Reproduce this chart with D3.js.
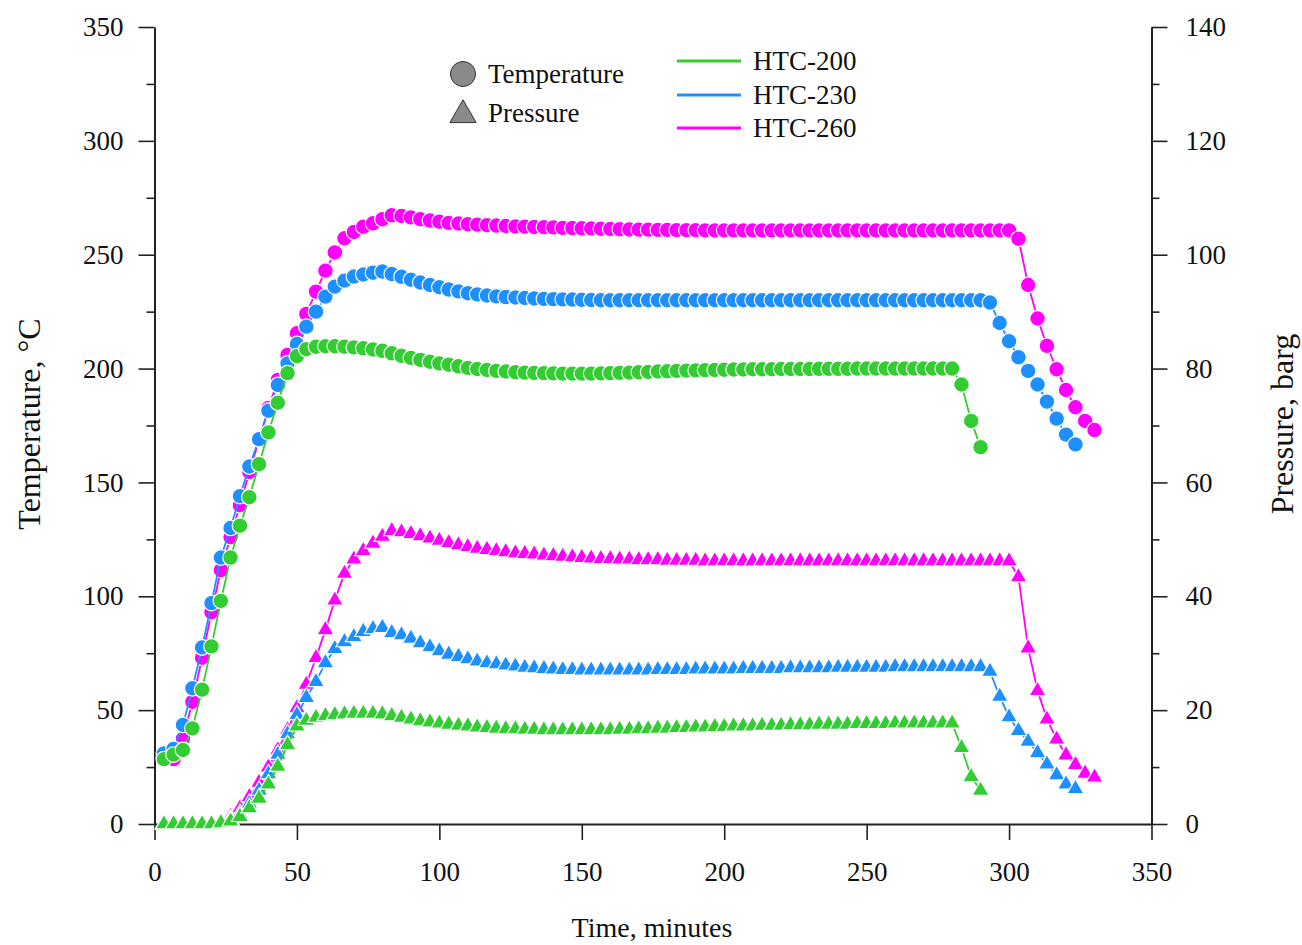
<!DOCTYPE html>
<html>
<head>
<meta charset="utf-8">
<script src="https://cdn.jsdelivr.net/npm/d3@7/dist/d3.min.js"></script>
<style>
  html, body { margin: 0; padding: 0; background: #fff; }
  svg { display: block; }
  text { font-family: "Liberation Serif", "Times New Roman", serif; fill: #111; }
</style>
</head>
<body>
<svg id="chart" width="1302" height="945"></svg>
<script>
// ---------------- DATA ----------------
const seriesNames = ["HTC-200", "HTC-230", "HTC-260"];
const seriesColors = ["#33cc33", "#1e8fff", "#ff00ff"];

const timeMinutes = [3.3, 6.7, 10, 13.3, 16.7, 20, 23.3, 26.7, 30, 33.3,
  36.7, 40, 43.3, 46.7, 50, 53.3, 56.7, 60, 63.3, 66.7,
  70, 73.3, 76.7, 80, 83.3, 86.7, 90, 93.3, 96.7, 100,
  103.3, 106.7, 110, 113.3, 116.7, 120, 123.3, 126.7, 130, 133.3,
  136.7, 140, 143.3, 146.7, 150, 153.3, 156.7, 160, 163.3, 166.7,
  170, 173.3, 176.7, 180, 183.3, 186.7, 190, 193.3, 196.7, 200,
  203.3, 206.7, 210, 213.3, 216.7, 220, 223.3, 226.7, 230, 233.3,
  236.7, 240, 243.3, 246.7, 250, 253.3, 256.7, 260, 263.3, 266.7,
  270, 273.3, 276.7, 280, 283.3, 286.7, 290, 293.3, 296.7, 300,
  303.3, 306.7, 310, 313.3, 316.7, 320, 323.3, 326.7, 330];

const tempHTC200 = [28.5, 30.5, 32.5, 42, 59, 78, 98, 117, 131, 143.5,
  158, 172, 185, 198, 205.5, 208.5, 209.6, 209.8, 209.8, 209.6,
  209.3, 208.9, 208.4, 207.8, 206.7, 205.6, 204.7, 203.8, 203, 202.3,
  201.7, 201, 200.3, 199.8, 199.4, 199, 198.7, 198.4, 198.2, 198.1,
  198, 197.9, 197.8, 197.8, 197.8, 197.8, 197.9, 198, 198.1, 198.2,
  198.4, 198.5, 198.7, 198.8, 199, 199.1, 199.2, 199.3, 199.4, 199.5,
  199.6, 199.6, 199.7, 199.7, 199.7, 199.8, 199.8, 199.8, 199.8, 199.9,
  199.9, 199.9, 199.9, 200, 200, 200, 200, 200, 200, 200,
  200, 200, 200, 200, 193, 177, 165.5];

const tempHTC230 = [31, 33, 43.5, 59.6, 77.5, 97, 117, 130, 144, 157,
  169, 181.5, 192.8, 202.3, 210.8, 218.4, 225, 231.6, 236, 238.6,
  240.4, 241.3, 242.1, 242.6, 241.5, 240.3, 239, 237.8, 236.7, 235.7,
  234.7, 233.9, 233.1, 232.6, 232.1, 231.7, 231.4, 231.2, 231, 230.8,
  230.6, 230.5, 230.4, 230.3, 230.2, 230.1, 230, 230, 230, 230,
  230, 230, 230, 230, 230, 230, 230, 230, 230, 230,
  230, 230, 230, 230, 230, 230, 230, 230, 230, 230,
  230, 230, 230, 230, 230, 230, 230, 230, 230, 230,
  230, 230, 230, 230, 230, 230, 230, 229, 220, 212,
  205, 199, 193, 185.5, 178, 171, 166.7];

const tempHTC260 = [29, 28.5, 37.5, 53.7, 73, 93, 111.5, 126, 140, 154.6,
  168.6, 182.7, 195, 206, 215.5, 224, 233.8, 243, 251, 257.2,
  260, 262.3, 263.8, 265.6, 267.3, 267, 266.4, 265.6, 265, 264.5,
  264, 263.7, 263.4, 263.2, 263, 262.8, 262.6, 262.4, 262.3, 262.2,
  262.1, 262, 261.8, 261.7, 261.6, 261.5, 261.4, 261.3, 261.2, 261.1,
  261, 261, 260.9, 260.9, 260.8, 260.8, 260.8, 260.7, 260.7, 260.7,
  260.7, 260.7, 260.7, 260.7, 260.7, 260.7, 260.7, 260.7, 260.7, 260.7,
  260.7, 260.7, 260.7, 260.7, 260.7, 260.7, 260.7, 260.7, 260.7, 260.7,
  260.7, 260.7, 260.7, 260.7, 260.7, 260.7, 260.7, 260.7, 260.7, 260.7,
  257, 236.7, 222, 210, 199.7, 190.6, 183, 177, 173];

const pressHTC200 = [0, 0, 0, 0, 0, 0, 0.2, 0.5, 1.3, 2.8,
  4.5, 7, 10.1, 13.9, 17.2, 18.2, 18.7, 19, 19.2, 19.3,
  19.4, 19.4, 19.4, 19.3, 19, 18.7, 18.4, 18.1, 17.9, 17.7,
  17.5, 17.3, 17.2, 17, 16.9, 16.8, 16.7, 16.7, 16.6, 16.6,
  16.5, 16.5, 16.5, 16.5, 16.5, 16.5, 16.5, 16.5, 16.6, 16.6,
  16.7, 16.7, 16.8, 16.8, 16.9, 16.9, 17, 17, 17.1, 17.1,
  17.2, 17.2, 17.2, 17.3, 17.3, 17.3, 17.4, 17.4, 17.4, 17.5,
  17.5, 17.5, 17.5, 17.6, 17.6, 17.6, 17.6, 17.7, 17.7, 17.7,
  17.7, 17.7, 17.7, 17.7, 13.4, 8.3, 5.9];

const pressHTC230 = [0, 0, 0, 0, 0, 0, 0.3, 0.8, 1.8, 3.6,
  5.9, 8.8, 12.2, 15.8, 19.2, 22.2, 25, 28.3, 30.8, 32,
  32.9, 33.8, 34.3, 34.5, 33.6, 33.2, 32.6, 31.8, 31.1, 30.4,
  29.8, 29.4, 29, 28.6, 28.3, 28.1, 27.9, 27.7, 27.5, 27.4,
  27.3, 27.2, 27.1, 27.1, 27, 27, 27, 27, 27, 27,
  27, 27, 27.1, 27.1, 27.1, 27.1, 27.2, 27.2, 27.2, 27.2,
  27.2, 27.3, 27.3, 27.3, 27.3, 27.3, 27.4, 27.4, 27.4, 27.4,
  27.4, 27.5, 27.5, 27.5, 27.5, 27.5, 27.5, 27.6, 27.6, 27.6,
  27.6, 27.6, 27.6, 27.6, 27.6, 27.6, 27.6, 26.8, 22.4, 18.8,
  16.4, 14.5, 12.5, 10.5, 8.6, 7, 6.2];

const pressHTC260 = [0, 0, 0, 0, 0, 0, 0.4, 1.3, 2.8, 4.8,
  7.3, 10, 13, 16.5, 20.4, 24.5, 29.2, 34.1, 39.3, 44,
  46.5, 48, 49.3, 50.5, 51.5, 51.3, 51, 50.6, 50.2, 49.8,
  49.4, 49, 48.7, 48.4, 48.2, 48, 47.8, 47.6, 47.5, 47.4,
  47.2, 47.1, 47, 46.9, 46.8, 46.7, 46.6, 46.6, 46.5, 46.5,
  46.4, 46.4, 46.4, 46.3, 46.3, 46.3, 46.3, 46.2, 46.2, 46.2,
  46.2, 46.2, 46.2, 46.2, 46.2, 46.2, 46.2, 46.2, 46.2, 46.2,
  46.2, 46.2, 46.2, 46.2, 46.2, 46.2, 46.2, 46.2, 46.2, 46.2,
  46.2, 46.2, 46.2, 46.2, 46.2, 46.2, 46.2, 46.2, 46.2, 46.2,
  43.4, 30.9, 23.4, 18.4, 14.9, 12.1, 10.4, 8.9, 8.2];

const xTicks = [0, 50, 100, 150, 200, 250, 300, 350];
const tempTicks = [0, 50, 100, 150, 200, 250, 300, 350];
const tempMinorTicks = [25, 75, 125, 175, 225, 275, 325];
const pressTicks = [0, 20, 40, 60, 80, 100, 120, 140];
const pressMinorTicks = [10, 30, 50, 70, 90, 110, 130];

// ---------------- CHART ----------------
const svg = d3.select("#chart");
const L = 154.5, R = 1151.5, T = 27, B = 824;
const x = d3.scaleLinear().domain([0, 350]).range([L, R]);
const yT = d3.scaleLinear().domain([0, 350]).range([B, T]);
const yP = d3.scaleLinear().domain([0, 140]).range([B, T]);

const FS = 27;
const axisColor = "#222";

function styleAxis(g) {
  g.selectAll("path.domain").attr("stroke", axisColor).attr("stroke-width", 2);
  g.selectAll(".tick line").attr("stroke", axisColor).attr("stroke-width", 1.6);
  g.selectAll(".tick text").style("font-family", '"Liberation Serif", serif').style("font-size", FS + "px").attr("fill", "#111");
}

// minor ticks
svg.append("g").attr("transform", `translate(${L},0)`)
  .call(d3.axisLeft(yT).tickValues(tempMinorTicks).tickSize(8).tickFormat(""))
  .call(g => g.select(".domain").remove())
  .call(styleAxis);
svg.append("g").attr("transform", `translate(${R},0)`)
  .call(d3.axisRight(yP).tickValues(pressMinorTicks).tickSize(8).tickFormat(""))
  .call(g => g.select(".domain").remove())
  .call(styleAxis);

svg.append("g").attr("transform", `translate(${L},0)`)
  .call(d3.axisLeft(yT).tickValues(tempTicks).tickSize(16).tickSizeOuter(0).tickPadding(15).tickFormat(d3.format("d")))
  .call(styleAxis);
svg.append("g").attr("transform", `translate(${R},0)`)
  .call(d3.axisRight(yP).tickValues(pressTicks).tickSize(16).tickSizeOuter(0).tickPadding(18).tickFormat(d3.format("d")))
  .call(styleAxis);
svg.append("g").attr("transform", `translate(0,${B})`)
  .call(d3.axisBottom(x).tickValues(xTicks).tickSize(16).tickSizeOuter(0).tickPadding(22).tickFormat(d3.format("d")))
  .call(styleAxis);

// axis titles
svg.append("text").attr("x", 652).attr("y", 937).attr("text-anchor", "middle")
  .style("font-size", "28px").text("Time, minutes");
svg.append("text").attr("transform", "translate(40,424) rotate(-90)").attr("text-anchor", "middle")
  .style("font-size", "32px").text("Temperature, \u00B0C");
svg.append("text").attr("transform", "translate(1293,424) rotate(-90)").attr("text-anchor", "middle")
  .style("font-size", "32px").text("Pressure, barg");

// series
const tempSeries = [tempHTC200, tempHTC230, tempHTC260];
const pressSeries = [pressHTC200, pressHTC230, pressHTC260];
const drawOrder = [2, 1, 0];

const triangle = d3.symbol().type(d3.symbolTriangle).size(125);

function drawSeries(values, yScale, color, shape) {
  const pts = values.map((v, i) => [timeMinutes[i], v]);
  const g = svg.append("g");
  g.append("path").datum(pts)
    .attr("fill", "none").attr("stroke", color).attr("stroke-width", 1.8)
    .attr("d", d3.line().x(d => x(d[0])).y(d => yScale(d[1])));
  if (shape === "circle") {
    g.selectAll("circle").data(pts).join("circle")
      .attr("cx", d => x(d[0])).attr("cy", d => yScale(d[1])).attr("r", 7.8)
      .attr("fill", color).attr("stroke", "#fff").attr("stroke-width", 1.2);
  } else {
    g.selectAll("path.m").data(pts).join("path").attr("class", "m")
      .attr("transform", d => `translate(${x(d[0])},${yScale(d[1])})`)
      .attr("d", triangle)
      .attr("fill", color).attr("stroke", "#fff").attr("stroke-width", 1.2);
  }
}

drawOrder.forEach(i => drawSeries(pressSeries[i], yP, seriesColors[i], "triangle"));
drawOrder.forEach(i => drawSeries(tempSeries[i], yT, seriesColors[i], "circle"));

// legend: marker types
svg.append("circle").attr("cx", 463).attr("cy", 74).attr("r", 12.5)
  .attr("fill", "#8a8a8a").attr("stroke", "#333").attr("stroke-width", 1);
svg.append("text").attr("x", 488).attr("y", 83).style("font-size", "27px").text("Temperature");
svg.append("path").attr("transform", "translate(463,115)")
  .attr("d", d3.symbol().type(d3.symbolTriangle).size(300))
  .attr("fill", "#8a8a8a").attr("stroke", "#333").attr("stroke-width", 1);
svg.append("text").attr("x", 488).attr("y", 122).style("font-size", "27px").text("Pressure");

// legend: series
const legendY = [61, 95, 128];
seriesNames.forEach((name, i) => {
  svg.append("line").attr("x1", 677).attr("x2", 741).attr("y1", legendY[i]).attr("y2", legendY[i])
    .attr("stroke", seriesColors[i]).attr("stroke-width", 3);
  svg.append("text").attr("x", 753).attr("y", legendY[i] + 9).style("font-size", "27px").text(name);
});
</script>
</body>
</html>
